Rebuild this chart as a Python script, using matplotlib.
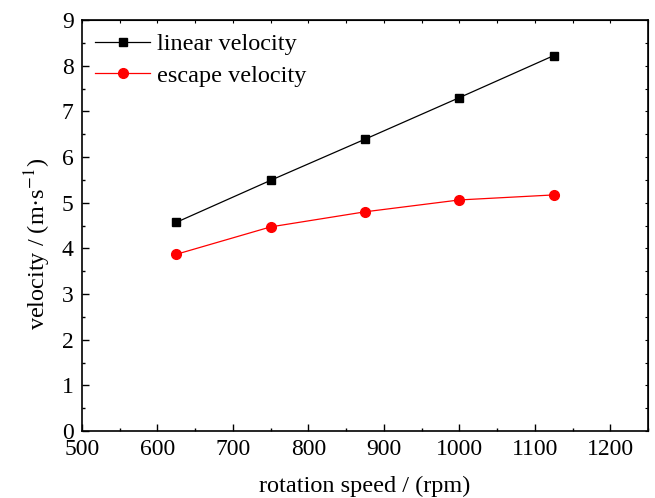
import matplotlib
matplotlib.use("Agg")
import matplotlib.pyplot as plt
from matplotlib.ticker import MultipleLocator

speed = [625, 750, 875, 1000, 1125]
linear_v = [4.57, 5.49, 6.39, 7.30, 8.22]
escape_v = [3.87, 4.47, 4.80, 5.06, 5.17]

plt.rcParams["font.family"] = ["Liberation Serif", "DejaVu Serif"]
plt.rcParams["mathtext.fontset"] = "stix"

fig = plt.figure(figsize=(6.55, 4.98), dpi=100)
ax = fig.add_axes([0.1252, 0.1345, 0.8641, 0.8253])

ax.plot(speed, linear_v, color="black", lw=0.9, marker="s", ms=6,
        label="linear velocity")
ax.plot(speed, escape_v, color="red", lw=0.9, marker="o", ms=7,
        label="escape velocity")

ax.set_xlim(500, 1250)
ax.set_ylim(0, 9)
ax.xaxis.set_major_locator(MultipleLocator(100))
ax.xaxis.set_minor_locator(MultipleLocator(50))
ax.yaxis.set_major_locator(MultipleLocator(1))
ax.yaxis.set_minor_locator(MultipleLocator(0.5))
ax.tick_params(which="both", direction="in", labelsize=17, width=1, pad=6)
ax.tick_params(which="major", length=5)
ax.tick_params(which="minor", length=2.5)
for s in ax.spines.values():
    s.set_linewidth(1.2)

# small ticks on the top and right edges, no labels
sx = ax.secondary_xaxis("top")
sx.xaxis.set_major_locator(MultipleLocator(50))
sx.tick_params(direction="in", length=2.5, width=0.8, labeltop=False)
sy = ax.secondary_yaxis("right")
sy.yaxis.set_major_locator(MultipleLocator(0.5))
sy.tick_params(direction="in", length=2.5, width=0.8, labelright=False)

ax.set_xlabel("rotation speed / (rpm)", fontsize=17.5, labelpad=11)
ax.set_ylabel("velocity / (m·s$^{-1}$)", fontsize=17.5)
ax.yaxis.set_label_coords(-0.052, 0.455)
ax.legend(loc="upper left", frameon=False, fontsize=17.5, handlelength=2.25,
          handletextpad=0.3, borderaxespad=0.25, labelspacing=0.38,
          borderpad=0.3)

fig.savefig("out.png", dpi=100)
